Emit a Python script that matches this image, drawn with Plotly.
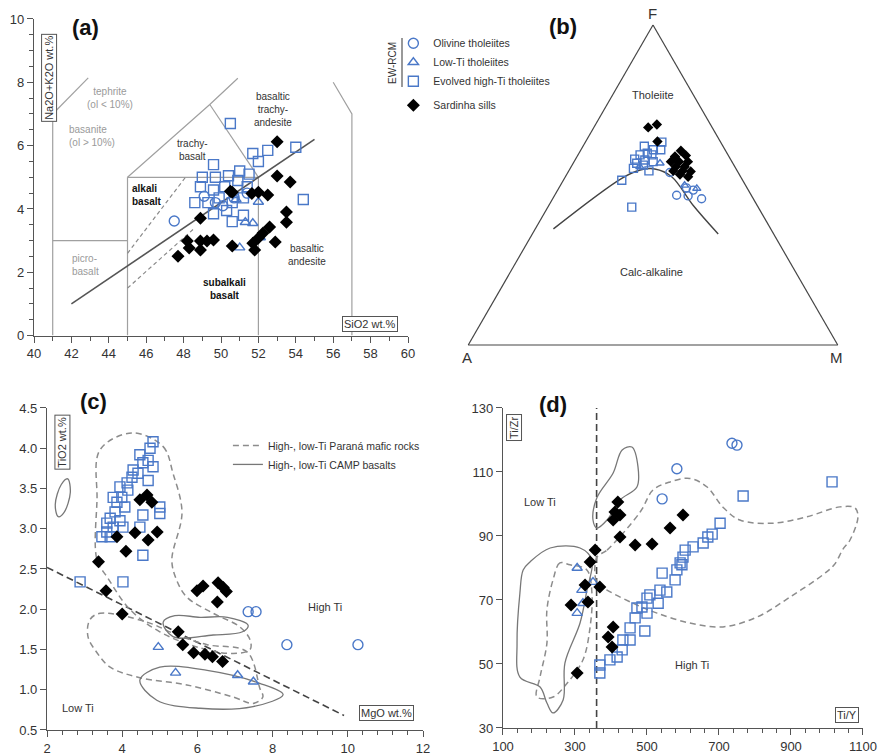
import plotly.graph_objects as go

BLUE = '#4a78c8'
GRAY = '#8c8c8c'
DARK = '#444444'
FONT = 'Liberation Sans, Arial, sans-serif'

# ---------------- Panel (a): TAS ----------------
a_oli_sio2 = [47.5, 49.1, 49.7, 50.1, 50.7, 51.4]
a_oli_alk = [3.62, 4.4, 4.2, 4.1, 4.35, 4.5]
a_low_sio2 = [50.8, 52.0, 51.3, 51.7, 52.1, 51.0]
a_low_alk = [4.3, 4.22, 3.58, 3.55, 3.1, 2.78]
a_evo_sio2 = [50.5, 54.0, 52.5, 51.7, 52.0, 49.6, 49.0, 49.7, 50.4, 51.0, 51.5, 48.9, 49.6, 50.2,
              50.9, 51.4, 48.6, 49.3, 49.9, 50.6, 51.2, 49.6, 50.3, 51.2, 54.4, 50.6]
a_evo_alk = [6.7, 5.95, 5.85, 5.75, 5.5, 5.4, 5.0, 5.0, 5.05, 5.2, 5.1, 4.7, 4.6, 4.7,
             4.9, 4.7, 4.2, 4.2, 4.35, 4.2, 4.35, 3.85, 3.95, 3.8, 4.3, 3.6]
a_sar_sio2 = [48.9, 47.7, 48.2, 48.3, 48.9, 48.9, 49.25, 49.6, 50.6, 50.5, 53.0, 53.7, 50.6, 51.65,
              52.0, 52.5, 53.5, 53.5, 52.6, 52.25, 52.0, 51.7, 51.8, 52.9, 53.0]
a_sar_alk = [3.71, 2.51, 2.99, 2.77, 2.70, 2.99, 2.99, 3.02, 2.83, 4.56, 5.04, 4.85, 4.53, 4.49,
             4.53, 4.44, 3.9, 3.58, 3.43, 3.24, 3.08, 2.92, 2.70, 2.96, 6.12]

tas_field_lines = [
    ([41, 41], [0, 7]),
    ([41, 42.9], [7, 8.14]),
    ([41, 45], [3, 3]),
    ([45, 45], [0, 5]),
    ([45, 52], [5, 5]),
    ([45, 49.4, 50.9], [5, 7.3, 8.13]),
    ([49.4, 52], [7.3, 5]),
    ([52, 52], [0, 5]),
    ([56, 57, 57], [8.0, 7.0, 0]),
]
tas_dashed_lines = [([45, 48.1], [2.6, 5.0]), ([45, 48.5], [1.5, 3.35])]
tas_alk_line = ([42, 55], [1.0, 6.2])

# ---------------- Panel (b): AFM (values in %) ----------------
b_oli_A = [20.2, 17.2, 14.0, 14.9, 16.4, 18.5]
b_oli_F = [46.8, 46.6, 45.7, 48.4, 49.1, 53.9]
b_oli_M = [33.0, 36.2, 40.3, 36.7, 34.5, 27.6]
b_low_A = [19.7, 16.5, 13.7, 25.7]
b_low_F = [56.8, 49.9, 48.9, 55.7]
b_low_M = [23.5, 33.6, 37.4, 18.6]
b_evo_A = [15.9, 21.3, 19.4, 17.4, 21.6, 23.8, 20.6, 25.9, 23.3, 21.3, 26.0, 24.5, 27.7, 23.9, 32.7, 34.2]
b_evo_F = [63.4, 62.1, 61.0, 61.0, 59.9, 59.4, 59.4, 58.1, 57.8, 57.3, 56.8, 56.2, 55.2, 54.4, 51.5, 43.1]
b_evo_M = [20.7, 16.6, 19.6, 21.6, 18.5, 16.8, 20.0, 16.0, 18.9, 21.4, 17.2, 19.3, 17.1, 21.7, 15.8, 22.7]
b_sar_A = [17.3, 14.5, 17.0, 12.1, 14.6, 11.5, 16.5, 14.3, 11.9, 16.0, 13.6, 17.3, 14.8, 12.7, 14.2, 16.05]
b_sar_F = [68.0, 68.9, 63.6, 60.7, 58.9, 59.2, 57.3, 57.3, 57.3, 55.7, 55.7, 54.4, 54.4, 54.2, 52.6, 53.3]
b_sar_M = [14.7, 16.6, 19.4, 27.2, 26.5, 29.3, 26.2, 28.4, 30.8, 28.3, 30.7, 28.3, 30.8, 33.1, 33.2, 30.65]
afm_line_A = [58.8, 32.4, 26.1, 22.0, 18.65, 17.3, 15.0]
afm_line_F = [36.3, 52.1, 54.7, 55.0, 52.6, 43.6, 34.7]
afm_line_M = [4.9, 15.5, 19.2, 23.0, 28.75, 39.1, 50.3]

# ---------------- Panel (c): TiO2 vs MgO ----------------
c_oli_mgo = [7.35, 7.56, 8.38, 10.27]
c_oli_ti = [1.97, 1.97, 1.56, 1.56]
c_low_mgo = [4.96, 5.42, 7.07, 7.49]
c_low_ti = [1.53, 1.21, 1.18, 1.10]
c_evo_mgo = [4.82, 4.74, 4.47, 4.69, 4.55, 4.82, 4.29, 4.42, 4.26, 4.69, 4.13, 3.94, 4.15, 3.76, 3.99,
             3.86, 4.07, 3.81, 3.68, 3.94, 3.59, 3.76, 4.02, 3.59, 3.46, 3.68, 4.55, 4.47, 5.0, 5.0,
             4.55, 2.88, 4.02]
c_evo_ti = [4.08, 4.0, 3.92, 3.85, 3.82, 3.77, 3.73, 3.69, 3.64, 3.6, 3.57, 3.52, 3.48, 3.39, 3.39,
            3.33, 3.27, 3.21, 3.13, 3.1, 3.07, 3.02, 3.02, 2.96, 2.9, 2.9, 3.17, 3.02, 3.27, 3.19,
            2.67, 2.34, 2.34]
c_sar_mgo = [4.47, 4.66, 4.79, 3.86, 4.34, 4.69, 4.93, 4.1, 3.37, 3.57, 4.0, 5.99, 6.15, 6.55, 6.69,
             6.77, 6.53, 5.49, 5.61, 5.9, 6.2, 6.4, 6.67]
c_sar_ti = [3.36, 3.42, 3.33, 2.9, 2.95, 2.86, 2.96, 2.72, 2.59, 2.23, 1.94, 2.23, 2.29, 2.33, 2.27,
            2.22, 2.09, 1.72, 1.56, 1.46, 1.44, 1.41, 1.35]
c_divider = ([2.0, 9.9], [2.52, 0.68])
c_parana_hi = ([4.26, 5.09, 5.35, 5.59, 5.32, 5.45, 5.72, 6.42, 7.13, 7.4, 7.4, 6.95, 6.07, 5.0, 4.2,
                3.6, 3.33, 3.33, 3.41, 4.26],
               [4.19, 4.02, 3.69, 3.2, 2.61, 2.36, 2.15, 1.95, 1.78, 1.62, 1.5, 1.45, 1.52, 1.72, 2.0,
                2.4, 2.61, 3.36, 3.98, 4.19])
c_parana_lo = ([3.41, 4.66, 5.46, 6.26, 7.32, 7.66, 7.74, 7.48, 6.95, 5.72, 4.47, 3.68, 3.33, 3.09, 3.14, 3.41],
               [1.95, 1.84, 1.68, 1.56, 1.47, 1.02, 0.91, 0.83, 0.91, 1.06, 1.15, 1.28, 1.46, 1.66, 1.87, 1.95])
c_camp_1 = ([2.55, 2.62, 2.45, 2.3, 2.22, 2.38, 2.55], [3.62, 3.45, 3.2, 3.15, 3.3, 3.55, 3.62])
c_camp_2 = ([5.09, 5.4, 6.07, 6.8, 7.35, 7.2, 6.42, 5.35, 5.09], [1.84, 1.92, 1.9, 1.9, 1.8, 1.72, 1.68, 1.66, 1.84])
c_camp_3 = ([4.47, 5.0, 6.26, 7.66, 8.28, 7.48, 6.07, 4.92, 4.47], [1.12, 1.28, 1.24, 1.08, 0.94, 0.79, 0.77, 0.87, 1.12])

# ---------------- Panel (d): Ti/Zr vs Ti/Y ----------------
d_oli_tiy = [583, 542, 736, 750]
d_oli_tizr = [111, 101.6, 119, 118.4]
d_low_tiy = [306, 319, 350, 306, 322]
d_low_tizr = [80, 73.1, 75.6, 65.9, 69]
d_evo_tiy = [1014, 767, 703, 681, 669, 656, 628, 606, 600, 597, 583, 542, 592, 578, 555, 536, 531, 508,
             500, 486, 500, 472, 467, 453, 494, 433, 453, 431, 417, 397, 369, 369]
d_evo_tizr = [106.9, 102.5, 94, 90.6, 89.7, 87.8, 86.6, 85.6, 83.4, 81, 79.4, 78.4, 81.6, 76.3, 72.5,
              73.1, 69, 71.6, 70.6, 67.8, 65.9, 67.5, 64.4, 61.3, 60.3, 57.5, 57.5, 54.4, 52.2, 51.3,
              49.7, 47.2]
d_sar_tiy = [419, 411, 425, 406, 425, 467, 514, 356, 342, 600, 564, 328, 369, 336, 289, 406, 392, 403, 306]
d_sar_tizr = [100.6, 97.5, 96.6, 95, 89.7, 87.2, 87.5, 85.6, 81.9, 96.6, 92.5, 74.7, 74.1, 69.4, 68.4,
              61.6, 58.4, 55.3, 47.2]
d_divider = ([360, 360], [30, 130])
d_camp_small = ([350, 361, 406, 431, 458, 475, 472, 425, 389, 361, 350],
                [95, 102, 109.7, 116.9, 117.8, 111.6, 105.3, 101.25, 95, 92.5, 95])
d_camp_big = ([175, 231, 314, 347, 333, 314, 272, 267, 239, 222, 203, 147, 139, 147, 156, 175],
              [81.9, 86.25, 86.25, 82.5, 73, 62.8, 50.3, 38.75, 34.7, 37.8, 42.8, 45.9, 56.5, 72.2, 79.4, 81.9])
d_parana_lo = ([286, 258, 239, 222, 222, 203, 194, 239, 278, 322, 342, 347, 333, 286],
               [81, 81.6, 76.3, 66.9, 56.5, 46, 39.7, 39.7, 44, 51.25, 61.6, 72.2, 79.4, 81])
d_parana_hi = ([361, 389, 481, 517, 564, 619, 667, 711, 758, 850, 944, 1036, 1078, 1086, 1064, 1045, 1020,
                990, 897, 806, 711, 619, 528, 461, 389, 361, 361],
               [83.4, 85.6, 97.5, 104.4, 106.9, 108, 105.3, 99, 95, 94, 96, 99.1, 98.75, 96, 88.75, 86, 81,
                78, 70.9, 64.7, 61.6, 62.8, 65.9, 69, 73.1, 75.3, 83.4])

series_names = ['Olivine tholeiites', 'Low-Ti tholeiites', 'Evolved high-Ti tholeiites', 'Sardinha sills']


def marks(scale):
    return {
        'oli': dict(symbol='circle-open', size=10 * scale, color=BLUE, line=dict(width=1.4, color=BLUE)),
        'low': dict(symbol='triangle-up-open', size=9 * scale, color=BLUE, line=dict(width=1.4, color=BLUE)),
        'evo': dict(symbol='square-open', size=10 * scale, color=BLUE, line=dict(width=1.4, color=BLUE)),
        'sar': dict(symbol='diamond', size=10 * scale, color='black', line=dict(width=0)),
    }


MARK = marks(1.0)
MARK_T = marks(0.8)
GROUP = {'oli': 'ew', 'low': 'ew', 'evo': 'ew', 'sar': 'sar'}
NAMES = dict(zip(['oli', 'low', 'evo', 'sar'], series_names))

fig = go.Figure()


def line(xs, ys, xa, ya, color=GRAY, width=1.3, dash='solid', shape='linear', **kw):
    fig.add_trace(go.Scatter(x=xs, y=ys, xaxis=xa, yaxis=ya, mode='lines', hoverinfo='skip',
                             line=dict(color=color, width=width, dash=dash, shape=shape),
                             showlegend=kw.pop('showlegend', False), **kw))


for xs, ys in tas_field_lines:
    line(xs, ys, 'x', 'y', color='#a0a0a0', width=1.2)
for xs, ys in tas_dashed_lines:
    line(xs, ys, 'x', 'y', color='#8a8a8a', width=1.2, dash='4px,3px')
line(tas_alk_line[0], tas_alk_line[1], 'x', 'y', color='#555555', width=1.6)

line(c_divider[0], c_divider[1], 'x2', 'y2', color=DARK, width=1.6, dash='7px,4px')
line(c_parana_hi[0], c_parana_hi[1], 'x2', 'y2', color=GRAY, width=1.5, dash='6px,4px', shape='spline',
     showlegend=True, name='High-, low-Ti Paraná mafic rocks', legend='legend2')
line(c_parana_lo[0], c_parana_lo[1], 'x2', 'y2', color=GRAY, width=1.5, dash='6px,4px', shape='spline')
line(c_camp_1[0], c_camp_1[1], 'x2', 'y2', color='#777777', width=1.3, shape='spline',
     showlegend=True, name='High-, low-Ti CAMP basalts', legend='legend2')
line(c_camp_2[0], c_camp_2[1], 'x2', 'y2', color='#777777', width=1.3, shape='spline')
line(c_camp_3[0], c_camp_3[1], 'x2', 'y2', color='#777777', width=1.3, shape='spline')

line(d_divider[0], d_divider[1], 'x3', 'y3', color=DARK, width=1.6, dash='7px,4px')
line(d_parana_hi[0], d_parana_hi[1], 'x3', 'y3', color=GRAY, width=1.5, dash='6px,4px', shape='spline')
line(d_parana_lo[0], d_parana_lo[1], 'x3', 'y3', color=GRAY, width=1.5, dash='6px,4px', shape='spline')
line(d_camp_small[0], d_camp_small[1], 'x3', 'y3', color='#777777', width=1.3, shape='spline')
line(d_camp_big[0], d_camp_big[1], 'x3', 'y3', color='#777777', width=1.3, shape='spline')

fig.add_trace(go.Scatterternary(a=afm_line_F, b=afm_line_A, c=afm_line_M, mode='lines', hoverinfo='skip',
                                line=dict(color='#444444', width=1.4, shape='spline'), showlegend=False))

data_a = {'oli': (a_oli_sio2, a_oli_alk), 'low': (a_low_sio2, a_low_alk),
          'evo': (a_evo_sio2, a_evo_alk), 'sar': (a_sar_sio2, a_sar_alk)}
data_c = {'oli': (c_oli_mgo, c_oli_ti), 'low': (c_low_mgo, c_low_ti),
          'evo': (c_evo_mgo, c_evo_ti), 'sar': (c_sar_mgo, c_sar_ti)}
data_d = {'oli': (d_oli_tiy, d_oli_tizr), 'low': (d_low_tiy, d_low_tizr),
          'evo': (d_evo_tiy, d_evo_tizr), 'sar': (d_sar_tiy, d_sar_tizr)}
data_b = {'oli': (b_oli_A, b_oli_F, b_oli_M), 'low': (b_low_A, b_low_F, b_low_M),
          'evo': (b_evo_A, b_evo_F, b_evo_M), 'sar': (b_sar_A, b_sar_F, b_sar_M)}

for k in ['evo', 'oli', 'low', 'sar']:
    fig.add_trace(go.Scatter(x=data_a[k][0], y=data_a[k][1], xaxis='x', yaxis='y', mode='markers',
                             marker=MARK[k], name=NAMES[k], legendgroup=GROUP[k], showlegend=False))
    fig.add_trace(go.Scatter(x=data_c[k][0], y=data_c[k][1], xaxis='x2', yaxis='y2', mode='markers',
                             marker=MARK[k], name=NAMES[k], legendgroup=GROUP[k], showlegend=False))
    fig.add_trace(go.Scatter(x=data_d[k][0], y=data_d[k][1], xaxis='x3', yaxis='y3', mode='markers',
                             marker=MARK[k], name=NAMES[k], legendgroup=GROUP[k], showlegend=False))
    A, F, M = data_b[k]
    fig.add_trace(go.Scatterternary(a=F, b=A, c=M, mode='markers', marker=MARK_T[k], name=NAMES[k],
                                    legendgroup=GROUP[k], showlegend=False))

for k in ['oli', 'low', 'evo', 'sar']:
    fig.add_trace(go.Scatter(x=[None], y=[None], xaxis='x', yaxis='y', mode='markers', marker=MARK[k],
                             name=NAMES[k], legendgroup=GROUP[k], showlegend=True))

axis_common = dict(showline=True, linecolor='#555555', linewidth=1.2, ticks='outside', ticklen=6,
                   tickcolor='#555555', showgrid=False, zeroline=False,
                   tickfont=dict(family=FONT, size=13, color='#333333'))
minor = dict(ticks='outside', ticklen=4, tickcolor='#555555')

fig.update_layout(
    width=880, height=756, margin=dict(l=0, r=0, t=0, b=0, autoexpand=False),
    paper_bgcolor='white', plot_bgcolor='white',
    font=dict(family=FONT, color='#333333'),
    xaxis=dict(domain=[0.03864, 0.46364], range=[40, 60], dtick=2, anchor='y',
               minor=dict(dtick=1, **minor), **axis_common),
    yaxis=dict(domain=[0.5561, 0.97487], range=[0, 10], dtick=2, anchor='x',
               minor=dict(dtick=0.5, **minor), **axis_common),
    xaxis2=dict(domain=[0.05341, 0.48068], range=[2, 12], dtick=2, anchor='y2',
                minor=dict(dtick=0.4, **minor), **axis_common),
    yaxis2=dict(domain=[0.03439, 0.46032], range=[0.5, 4.5], dtick=0.5, tickformat='.1f', anchor='x2',
                **axis_common),
    xaxis3=dict(domain=[0.57159, 0.98068], range=[100, 1100], tick0=100, dtick=200, anchor='y3',
                minor=dict(tick0=100, dtick=40, **minor), **axis_common),
    yaxis3=dict(domain=[0.03704, 0.46032], range=[30, 130], tick0=30, dtick=20, anchor='x3', **axis_common),
    ternary=dict(domain=dict(x=[0.53182, 0.95227], y=[0.54365, 0.96693]), sum=100, bgcolor='rgba(0,0,0,0)',
                 aaxis=dict(showgrid=False, showticklabels=False, ticks='', linecolor='#444444', linewidth=1.2,
                            title=dict(text='')),
                 baxis=dict(showgrid=False, showticklabels=False, ticks='', linecolor='#444444', linewidth=1.2,
                            title=dict(text='')),
                 caxis=dict(showgrid=False, showticklabels=False, ticks='', linecolor='#444444', linewidth=1.2,
                            title=dict(text=''))),
    legend=dict(x=0.447, y=0.962, xanchor='left', yanchor='top', font=dict(family=FONT, size=10.5, color='#333'),
                bgcolor='rgba(0,0,0,0)', tracegroupgap=5, traceorder='grouped'),
    legend2=dict(x=0.259, y=0.430, xanchor='left', yanchor='top', font=dict(family=FONT, size=10.5, color='#333'),
                 bgcolor='rgba(0,0,0,0)', tracegroupgap=0),
)

ann = []


def text(t, x, y, xref, yref, size=10, color='#222', bold=False, **kw):
    if bold:
        t = '<b>' + t + '</b>'
    ann.append(dict(text=t, x=x, y=y, xref=xref, yref=yref, showarrow=False, xanchor='center', yanchor='middle',
                    font=dict(family=FONT, size=size, color=color), **kw))


def boxed(t, x, y, xref, yref, size=11, angle=0):
    ann.append(dict(text=t, x=x, y=y, xref=xref, yref=yref, showarrow=False, textangle=angle,
                    xanchor='center', yanchor='middle',
                    font=dict(family=FONT, size=size, color='#333'), bgcolor='white',
                    bordercolor='#555', borderwidth=1, borderpad=1))


text('(a)', 0.0966, 0.963, 'paper', 'paper', size=22, color='#111', bold=True)
text('(b)', 0.6398, 0.9656, 'paper', 'paper', size=22, color='#111', bold=True)
text('(c)', 0.1068, 0.4683, 'paper', 'paper', size=22, color='#111', bold=True)
text('(d)', 0.6284, 0.4656, 'paper', 'paper', size=22, color='#111', bold=True)

text('tephrite<br>(ol < 10%)', 44.06, 7.51, 'x', 'y', color='#9a9a9a')
text('basanite<br>(ol > 10%)', 43.1, 6.3, 'x', 'y', color='#9a9a9a', align='left')
text('picro-<br>basalt', 42.73, 2.23, 'x', 'y', color='#9a9a9a', align='left')
text('trachy-<br>basalt', 48.5, 5.86, 'x', 'y', color='#333')
text('basaltic<br>trachy-<br>andesite', 52.78, 7.13, 'x', 'y', color='#333')
text('alkali<br>basalt', 46.04, 4.44, 'x', 'y', color='#111', bold=True, align='left')
text('subalkali<br>basalt', 50.2, 1.47, 'x', 'y', color='#111', bold=True)
text('basaltic<br>andesite', 54.6, 2.54, 'x', 'y', color='#333')
boxed('SiO2 wt.%', 57.97, 0.37, 'x', 'y')
boxed('Na2O+K2O wt.%', 40.8, 8.14, 'x', 'y', angle=-90)

text('Tholeiite', 0.742, 0.8743, 'paper', 'paper', size=11, color='#333')
text('Calc-alkaline', 0.7409, 0.6402, 'paper', 'paper', size=11, color='#333')
text('F', 0.742, 0.9828, 'paper', 'paper', size=15, color='#333')
text('A', 0.5307, 0.5265, 'paper', 'paper', size=15, color='#333')
text('M', 0.95, 0.5265, 'paper', 'paper', size=15, color='#333')
text('EW-RCM', 392 / 880, 1 - 63 / 756, 'paper', 'paper', size=10, color='#333', textangle=-90)

text('High Ti', 9.39, 2.03, 'x2', 'y2', size=11, color='#333')
text('Low Ti', 2.82, 0.77, 'x2', 'y2', size=11, color='#333')
boxed('MgO wt.%', 11.04, 0.71, 'x2', 'y2')
boxed('TiO2 wt.%', 2.4, 4.07, 'x2', 'y2', angle=-90)

text('Low Ti', 202.8, 100.6, 'x3', 'y3', size=11, color='#333')
text('High Ti', 625, 49.7, 'x3', 'y3', size=11, color='#333')
boxed('Ti/Y', 1055.6, 34.1, 'x3', 'y3')
boxed('Ti/Zr', 130.6, 123.75, 'x3', 'y3', angle=-90)

fig.update_layout(annotations=ann,
                  shapes=[dict(type='line', xref='paper', yref='paper', x0=402 / 880, x1=402 / 880,
                               y0=1 - 38 / 756, y1=1 - 87 / 756, line=dict(color='#555', width=1.2))])

fig.write_html('out.html', config={'displayModeBar': False},
               post_script="document.body.style.margin='0';document.body.style.overflow='hidden';")
